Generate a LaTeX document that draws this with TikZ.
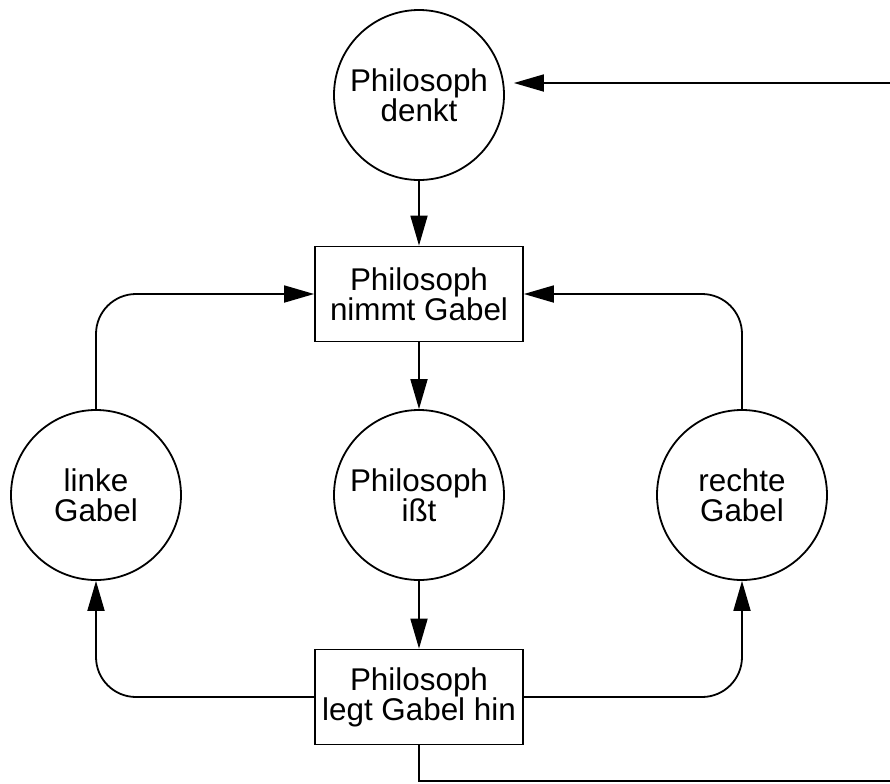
\documentclass[tikz,border=0pt]{standalone}
\usepackage{fontspec}
\setmainfont{Liberation Sans}
\usetikzlibrary{arrows.meta}

\tikzset{
  place/.style={draw,circle,line width=0.9pt,minimum size=85pt,inner sep=0pt,align=center},
  transition/.style={draw,rectangle,line width=0.9pt,minimum width=104pt,minimum height=47.5pt,inner sep=2pt,align=center},
  arc/.style={line width=0.9pt,-{Triangle[length=15pt,width=8.5pt]}}
}

\begin{document}
\begin{tikzpicture}[x=0.5pt,y=-0.5pt,font=\fontsize{15.7}{15}\selectfont]

\useasboundingbox (0,0) rectangle (890,783);

\node[place] (denkt) at (419,95) {Philosoph\\denkt};
\node[transition] (nimmt) at (419,294) {Philosoph\\nimmt Gabel};
\node[place] (isst) at (419,495) {Philosoph\\ißt};
\node[place] (links) at (96,495) {linke\\Gabel};
\node[place] (rechts) at (742,495) {rechte\\Gabel};
\node[transition] (legt) at (419,697) {Philosoph\\legt Gabel hin};

\coordinate (untenrechts) at (900,781);
\coordinate (obenrechts) at (900,83);

\draw[arc] (denkt) -- (nimmt);
\draw[arc] (nimmt) -- (isst);
\draw[arc] (isst) -- (legt);

\draw[arc,rounded corners=20pt] (links.north) |- (nimmt.west);
\draw[arc,rounded corners=20pt] (rechts.north) |- (nimmt.east);
\draw[arc,rounded corners=20pt] (legt.west) -| (links.south);
\draw[arc,rounded corners=20pt] (legt.east) -| (rechts.south);

\draw[arc,shorten >=4.5pt] (legt.south) |- (untenrechts) -- (obenrechts) -- (denkt.east |- obenrechts);

\end{tikzpicture}
\end{document}
